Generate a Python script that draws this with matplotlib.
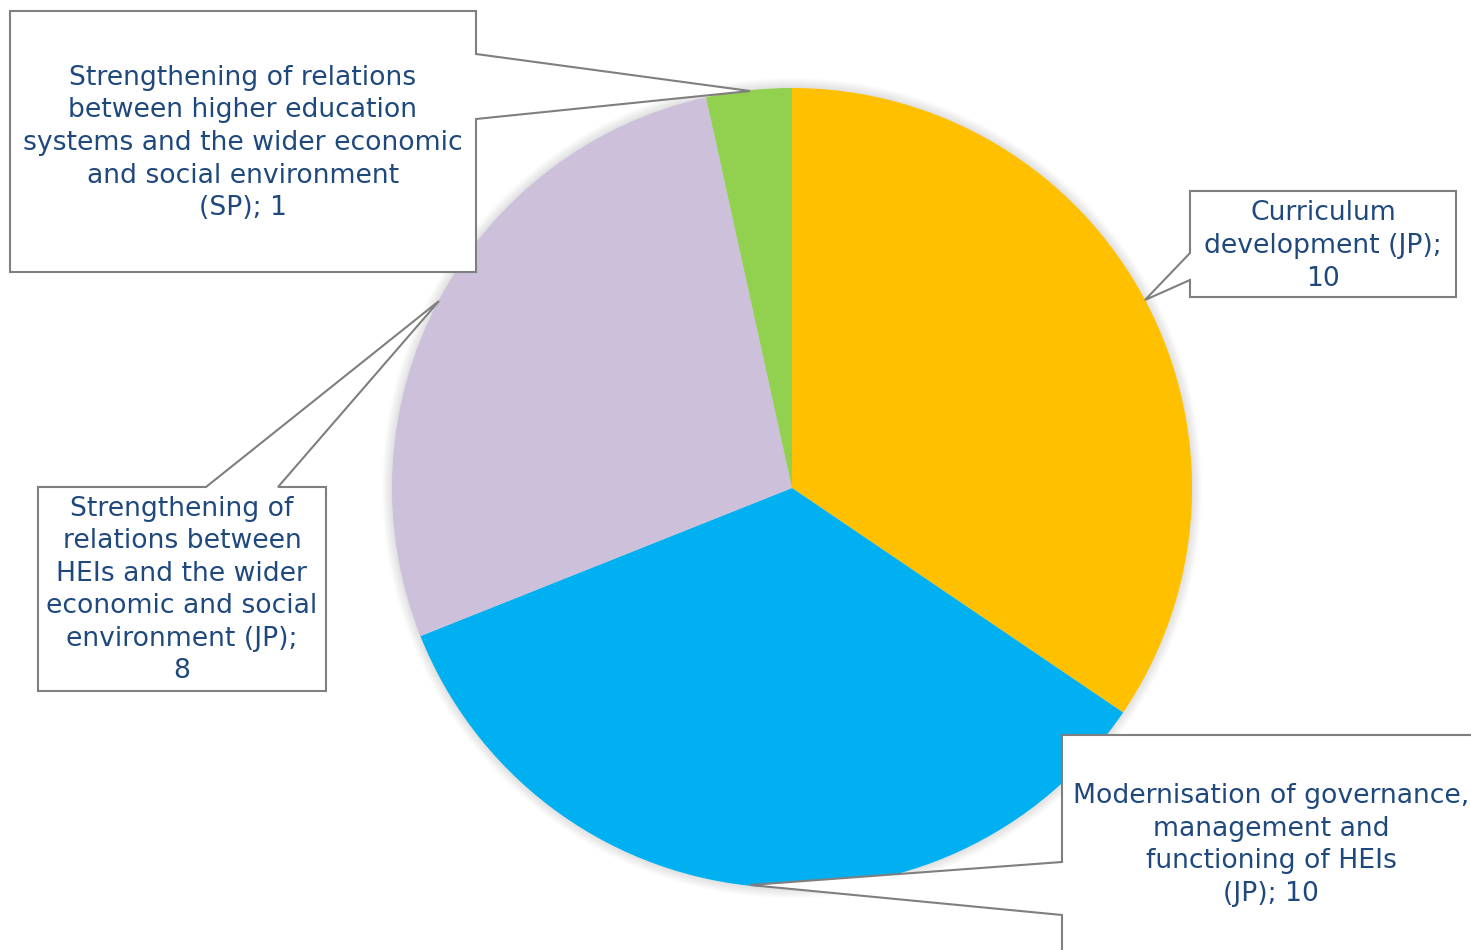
import matplotlib
matplotlib.use("Agg")
import matplotlib.pyplot as plt
from matplotlib.patches import Polygon, Circle

# ---- data ----
categories = [
    "Curriculum development (JP)",
    "Modernisation of governance, management and functioning of HEIs (JP)",
    "Strengthening of relations between HEIs and the wider economic and social environment (JP)",
    "Strengthening of relations between higher education systems and the wider economic and social environment (SP)",
]
values = [10, 10, 8, 1]
colors = ["#FFC000", "#00B0F0", "#CCC0DA", "#92D050"]
label_texts = [
    "Curriculum\ndevelopment (JP);\n10",
    "Modernisation of governance,\nmanagement and\nfunctioning of HEIs\n(JP); 10",
    "Strengthening of\nrelations between\nHEIs and the wider\neconomic and social\nenvironment (JP);\n8",
    "Strengthening of relations\nbetween higher education\nsystems and the wider economic\nand social environment\n(SP); 1",
]

# ---- layout (pixel coordinates, y downward) ----
W, H = 1471, 950
center = (792, 488)
radius = 400
callouts = [
    # polygon outline, text center
    ([(1190, 191), (1456, 191), (1456, 297), (1190, 297), (1190, 280), (1145, 300), (1190, 253)], (1323, 246)),
    ([(1062, 735), (1480, 735), (1480, 960), (1062, 960), (1062, 915), (750, 885), (1062, 862)], (1271, 845)),
    ([(38, 487), (206, 487), (439, 301), (278, 487), (326, 487), (326, 691), (38, 691)], (182, 590)),
    ([(10, 11), (476, 11), (476, 54), (750, 91), (476, 119), (476, 272), (10, 272)], (243, 143)),
]
text_color = "#1F497D"

fig = plt.figure(figsize=(W / 100, H / 100), dpi=100)
ax = fig.add_axes([0, 0, 1, 1])

# soft shadow / glow around the pie
for k in range(10, 0, -1):
    ax.add_patch(Circle(center, radius + k, facecolor="black", edgecolor="none",
                        alpha=0.012, zorder=0))

ax.pie(values, colors=colors, startangle=-90, counterclock=True,
       center=center, radius=radius, wedgeprops=dict(linewidth=0),
       frame=False)
for w in ax.patches:
    if not isinstance(w, Circle):
        w.set_zorder(1)

for (poly, tc), txt in zip(callouts, label_texts):
    ax.add_patch(Polygon(poly, closed=True, facecolor="white", edgecolor="#7F7F7F",
                         linewidth=1.5, zorder=3))
    ax.text(tc[0], tc[1], txt, ha="center", va="center", color=text_color,
            fontsize=19.2, family="DejaVu Sans", linespacing=1.33, zorder=4)

ax.set_xlim(0, W)
ax.set_ylim(H, 0)
ax.set_aspect("equal")
ax.axis("off")

fig.savefig("out.png", dpi=100, facecolor="white")
